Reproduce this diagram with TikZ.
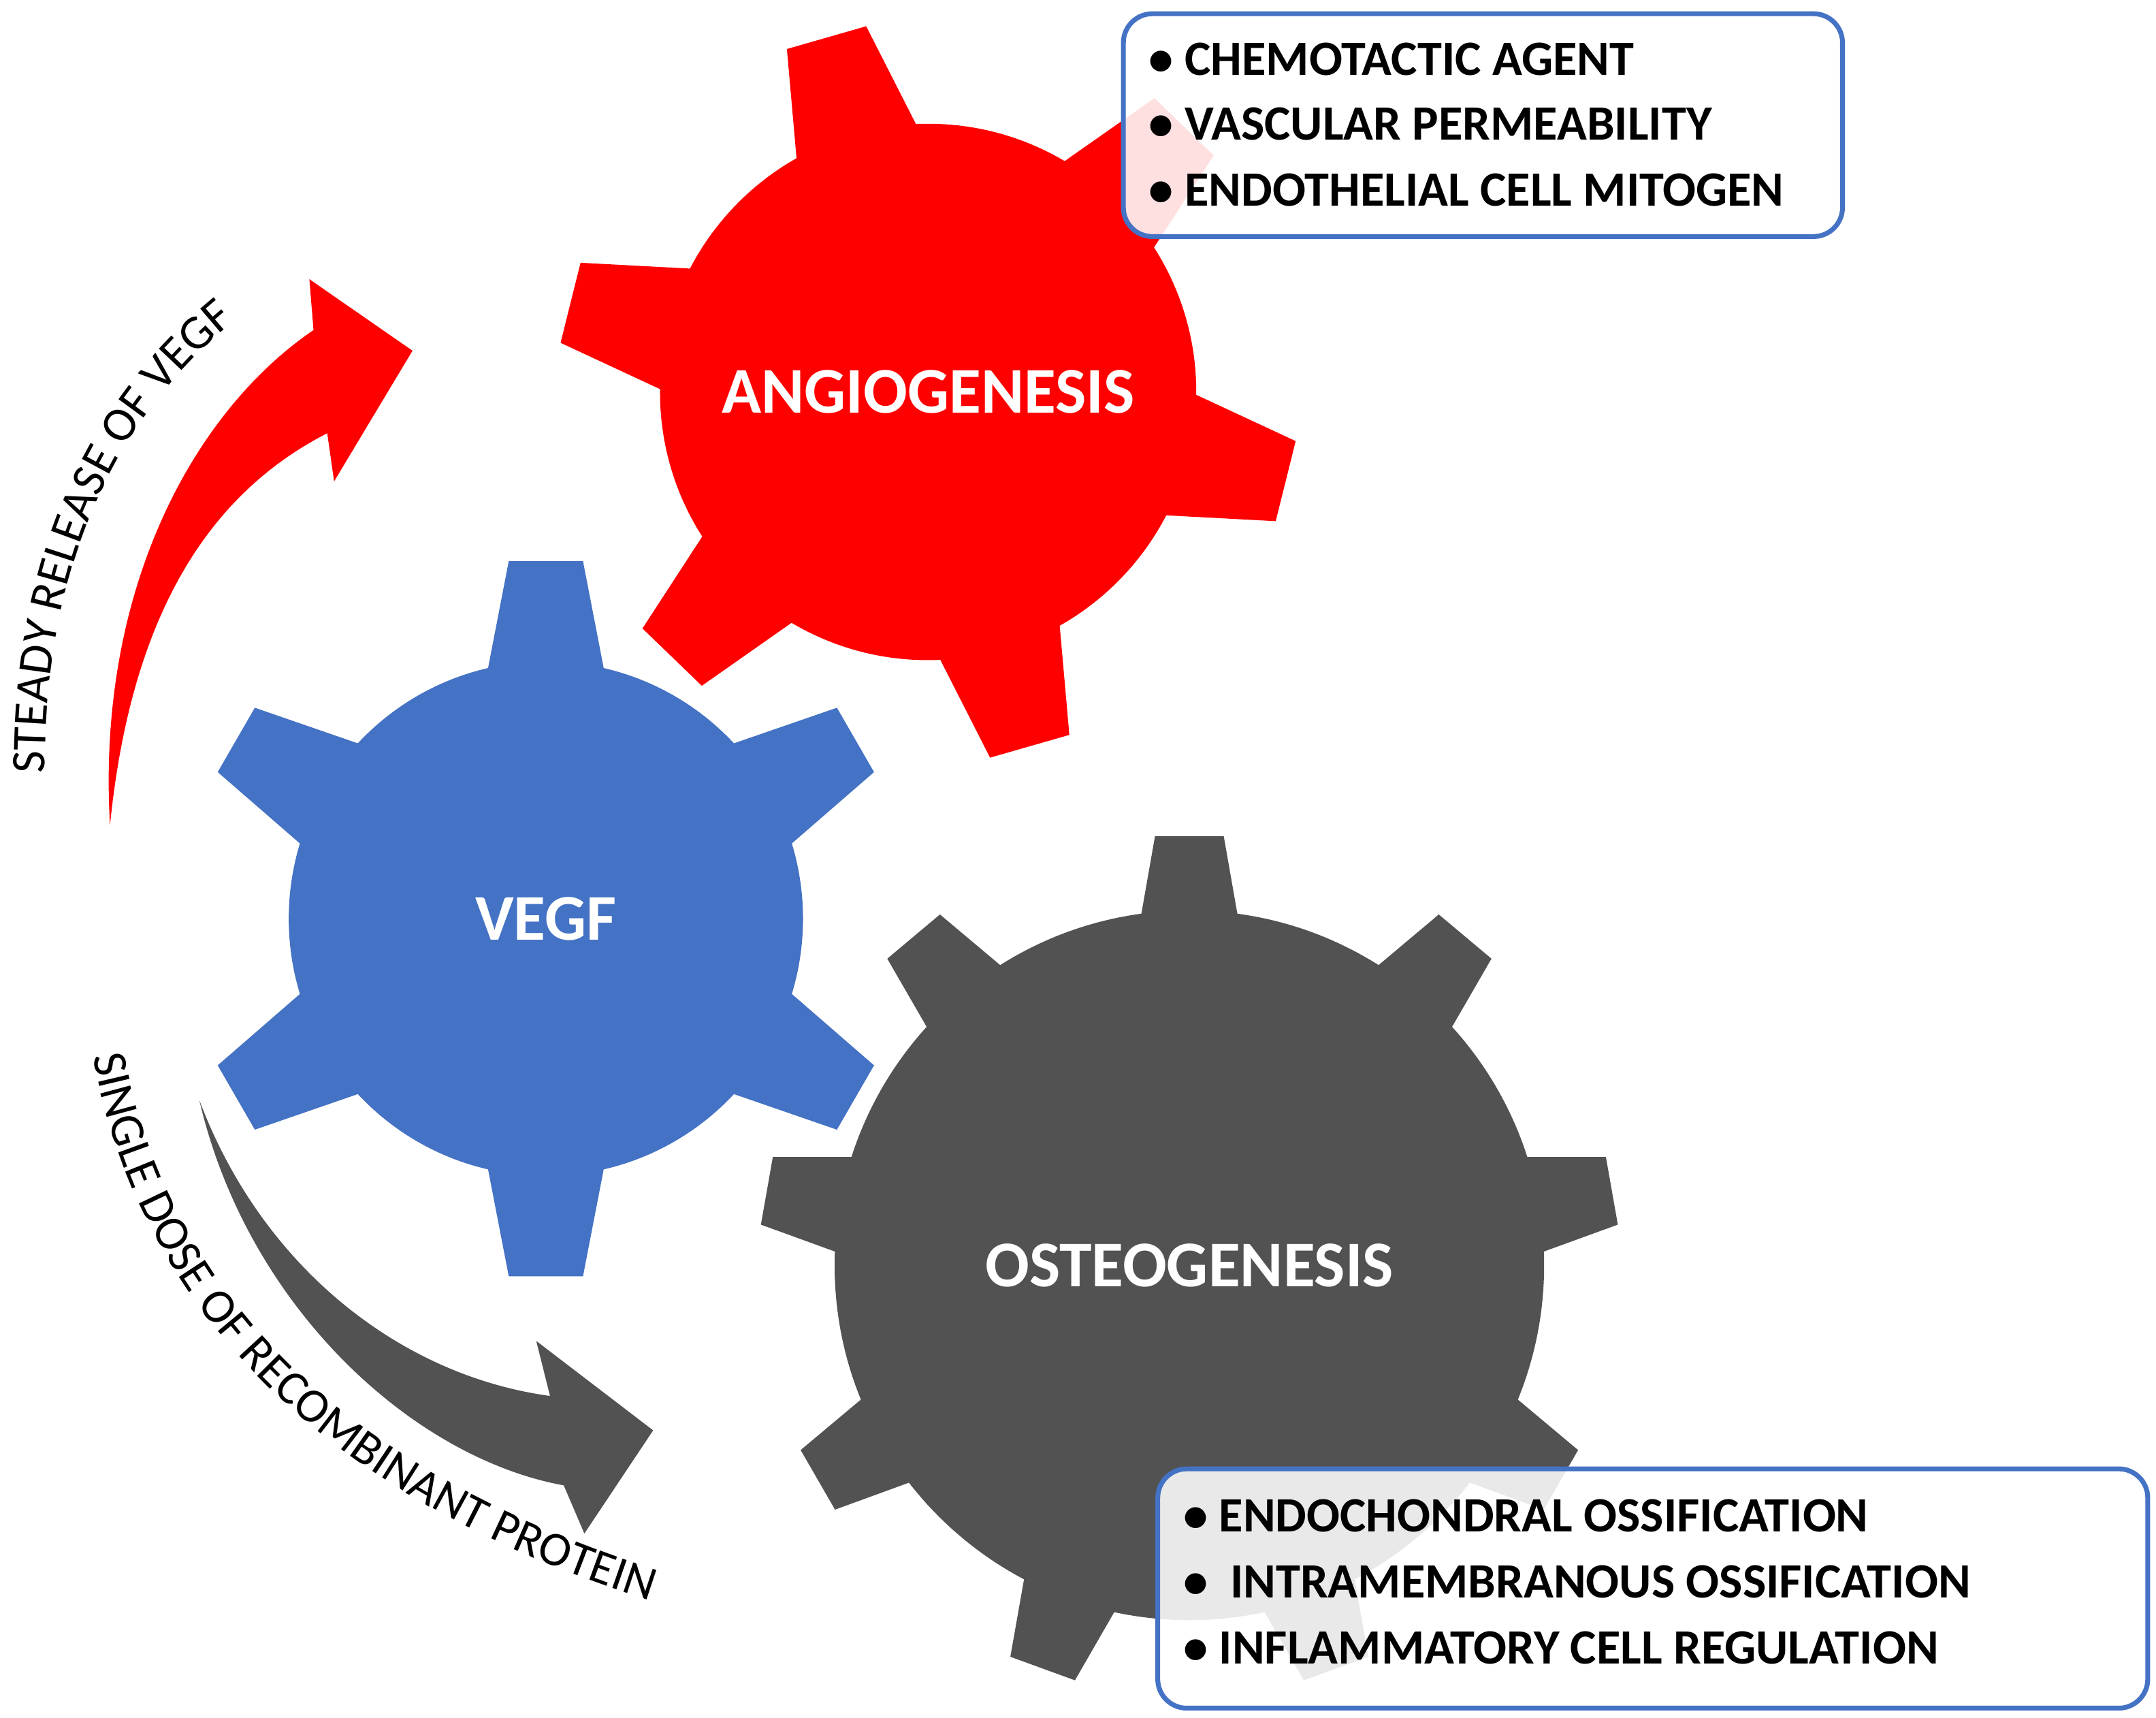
\documentclass[tikz,border=0pt]{standalone}
\usepackage{fontspec}
\setmainfont{Carlito}
\usetikzlibrary{decorations.text}
\definecolor{gred}{HTML}{FF0000}
\definecolor{gblue}{HTML}{4472C4}
\definecolor{gdark}{HTML}{525252}
\newcommand{\mygear}[9]{%
\begin{scope}[shift={(#1,#2)}]
\fill[#9] (0,0) circle (#3);
\foreach \k in {1,...,#5}{\fill[#9,rotate={#6+360*\k/#5}] ({#3-20},-#7) -- (#4,-#8) -- (#4,#8) -- ({#3-20},#7) -- cycle;}
\end{scope}}
\tikzset{
 box/.style={draw=gblue,line width=1pt,rounded corners=6pt,fill=white,fill opacity=0.88},
 item/.style={anchor=west,font=\fontsize{10.2}{12}\selectfont\bfseries,inner sep=0pt},
 glabel/.style={text=white,font=\fontsize{13.5}{16}\selectfont\bfseries},
 curvetext/.style={decorate,decoration={text along path,text align=center,text={|\fontsize{10}{12}\selectfont|#1}}}
}
\begin{document}
\begin{tikzpicture}[x=0.01cm,y=-0.01cm]
\useasboundingbox (0,0) rectangle (1568,1249);
\mygear{865}{920}{258}{312}{9}{90}{38}{25}{gdark}
\mygear{675}{285}{195}{268}{6}{106}{48}{30}{gred}
\mygear{397}{668}{187}{260}{6}{90}{45}{27}{gblue}
\node[glabel] (ang) at (675,285) {ANGIOGENESIS};
\node[glabel] (veg) at (397,668) {VEGF};
\node[glabel] (ost) at (865,920) {OSTEOGENESIS};
% arrows
\fill[gred] (80,600) .. controls (70,430) and (140,300) .. (228,240) -- (225,203) -- (300,255) -- (243,350) -- (238,315) .. controls (150,360) and (95,450) .. (80,600) -- cycle;
\fill[gdark] (145,800) .. controls (180,950) and (300,1060) .. (410,1080) -- (425,1115) -- (475,1040) -- (390,975) -- (400,1015) .. controls (290,1000) and (190,920) .. (145,800) -- cycle;
\path[curvetext={STEADY RELEASE OF VEGF}] (33,580) .. controls (28,420) and (80,300) .. (185,222);
\path[curvetext={SINGLE DOSE OF RECOMBINANT PROTEIN}] (64,748) .. controls (103,1000) and (300,1112) .. (492,1170);
% boxes
\draw[box] (817,10) rectangle (1340,172);
\node[item] (a1) at (835,43) {\textbullet\ CHEMOTACTIC AGENT};
\node[item] (a2) at (835,90) {\textbullet\ VASCULAR PERMEABILITY};
\node[item] (a3) at (835,138) {\textbullet\ ENDOTHELIAL CELL MITOGEN};
\draw[box] (842,1068) rectangle (1562,1242);
\node[item] (b1) at (860,1102) {\textbullet\ ENDOCHONDRAL OSSIFICATION};
\node[item] (b2) at (860,1150) {\textbullet\ \ INTRAMEMBRANOUS OSSIFICATION};
\node[item] (b3) at (860,1198) {\textbullet\ INFLAMMATORY CELL REGULATION};
\end{tikzpicture}
\end{document}
